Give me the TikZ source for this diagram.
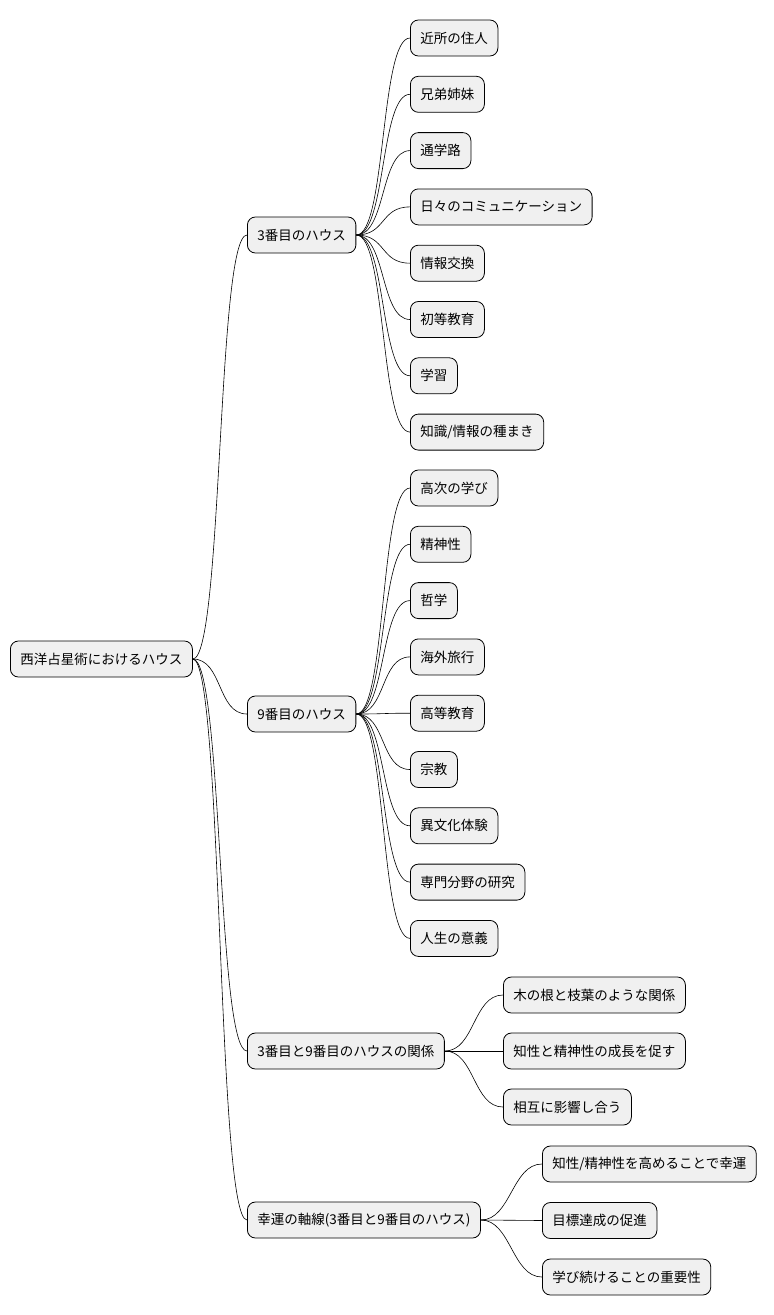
\documentclass[tikz,border=0pt]{standalone}
\usepackage{fontspec}
\setmainfont{Noto Sans CJK JP}
\usetikzlibrary{positioning}

\begin{document}
\begin{tikzpicture}[x=1pt, y=-1pt,
    % Styles
    topic/.style={
        rectangle,
        rounded corners=8pt,
        fill=gray!12,
        draw=black,
        line width=0.8pt,
        minimum height=36pt,
        inner xsep=10pt,
        anchor=west,
        font=\fontsize{13.5pt}{15pt}\selectfont
    },
    branch/.style={draw=black, line width=0.6pt}
]
\useasboundingbox (0,0) rectangle (774,1315);

% root
\node[topic] (root) at (10,659) {西洋占星術におけるハウス};

% main branches
\node[topic] (h3) at (247,235) {3番目のハウス};
\node[topic] (h9) at (247,714) {9番目のハウス};
\node[topic] (rel) at (247,1051) {3番目と9番目のハウスの関係};
\node[topic] (luck) at (247,1220) {幸運の軸線(3番目と9番目のハウス)};

\foreach \b in {h3,h9,rel,luck}
    \draw[branch] (root.east) .. controls +(30,0) and +(-30,0) .. (\b.west);

% 3rd house
\foreach \t [count=\i] in {近所の住人,兄弟姉妹,通学路,日々のコミュニケーション,情報交換,初等教育,学習,知識/情報の種まき}{
    \node[topic] (a\i) at (410,{38+56.3*(\i-1)}) {\t};
    \draw[branch] (h3.east) .. controls +(30,0) and +(-30,0) .. (a\i.west);
}

% 9th house
\foreach \t [count=\i] in {高次の学び,精神性,哲学,海外旅行,高等教育,宗教,異文化体験,専門分野の研究,人生の意義}{
    \node[topic] (b\i) at (410,{488+56.3*(\i-1)}) {\t};
    \draw[branch] (h9.east) .. controls +(30,0) and +(-30,0) .. (b\i.west);
}

% relation
\foreach \t [count=\i] in {木の根と枝葉のような関係,知性と精神性の成長を促す,相互に影響し合う}{
    \node[topic] (c\i) at (503,{995+56*(\i-1)}) {\t};
    \draw[branch] (rel.east) .. controls +(30,0) and +(-30,0) .. (c\i.west);
}

% axis of luck
\foreach \t [count=\i] in {知性/精神性を高めることで幸運,目標達成の促進,学び続けることの重要性}{
    \node[topic] (d\i) at (542,{1164+56.5*(\i-1)}) {\t};
    \draw[branch] (luck.east) .. controls +(30,0) and +(-30,0) .. (d\i.west);
}

\end{tikzpicture}
\end{document}
